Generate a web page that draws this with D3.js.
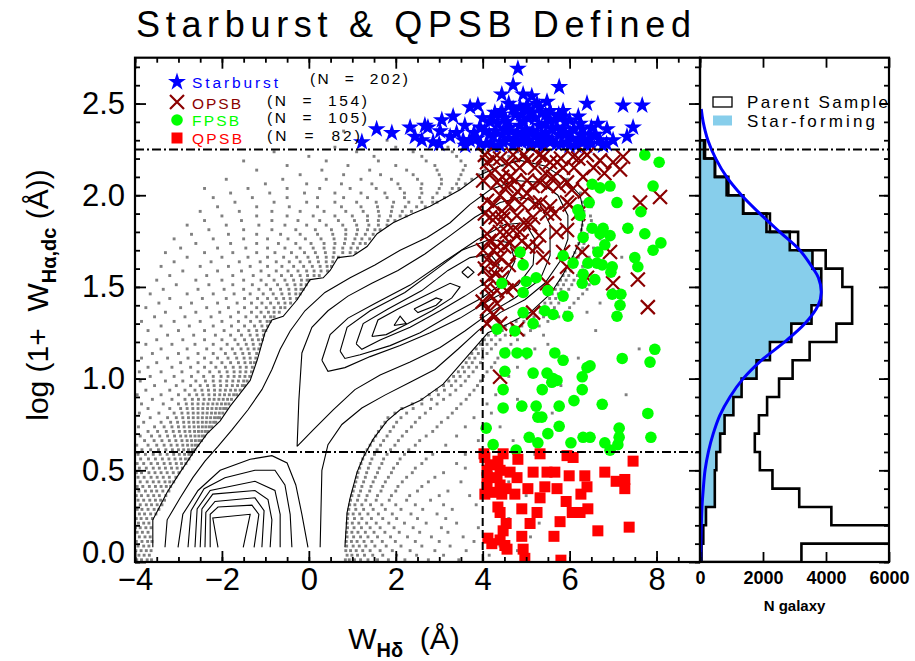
<!DOCTYPE html>
<html><head><meta charset="utf-8">
<script src="https://cdn.jsdelivr.net/npm/d3@7"></script>
<style>body{margin:0;background:#fff}svg{display:block}text{white-space:pre}</style>
</head><body><svg width="915" height="661"></svg>
<script>
// ---------------- DATA ----------------
const titleText = "Starburst & QPSB Defined";
const xTicks = [-4,-2,0,2,4,6,8];
const yTicks = [0,0.5,1,1.5,2,2.5];
const histTicks = [0,2000,4000,6000];
const cutLines = {hiY:2.25, loY:0.6, x:4};
const legendRows = [
  {name:"Starburst", n:"(N  =  202)", color:"#0000ff", sym:"star"},
  {name:"OPSB", n:"(N  =  154)", color:"#8b0000", sym:"cross"},
  {name:"FPSB", n:"(N  =  105)", color:"#00ff00", sym:"circle"},
  {name:"QPSB", n:"(N  =  82)", color:"#ff0000", sym:"square"}
];
const starburst = [[4.81,2.69],[4.70,2.60],[5.76,2.59],[4.44,2.55],[4.93,2.55],[5.13,2.54],[5.48,2.51],[6.40,2.50],[7.23,2.49],[7.67,2.49],[3.71,2.48],[3.89,2.49],[4.28,2.45],[4.44,2.46],[4.86,2.48],[5.02,2.49],[5.85,2.46],[3.32,2.43],[3.06,2.41],[2.74,2.37],[2.44,2.32],[1.56,2.36],[1.91,2.34],[1.22,2.29],[3.02,2.35],[3.25,2.32],[3.59,2.38],[3.94,2.37],[4.17,2.40],[4.51,2.42],[4.63,2.37],[4.93,2.40],[5.20,2.42],[5.55,2.41],[5.83,2.43],[6.24,2.39],[6.65,2.39],[6.86,2.36],[7.46,2.37],[7.32,2.32],[7.00,2.30],[6.47,2.33],[6.01,2.34],[5.25,2.33],[4.24,2.32],[3.87,2.31],[3.55,2.30],[2.86,2.29],[4.47,2.29],[4.79,2.30],[5.55,2.29],[6.31,2.29],[6.77,2.27],[2.33,2.37],[2.67,2.38],
[4.10,2.28],[4.30,2.35],[4.40,2.27],[4.60,2.31],[4.70,2.27],[4.80,2.34],[4.90,2.29],[5.00,2.36],[5.10,2.27],[5.20,2.32],[5.30,2.38],[5.40,2.27],[5.45,2.34],[5.60,2.30],[5.70,2.37],[5.80,2.28],[5.90,2.33],[6.00,2.27],[6.10,2.36],[6.20,2.30],[4.55,2.40],[4.75,2.44],[5.05,2.42],[5.35,2.45],[5.65,2.41],[4.35,2.39],[5.90,2.40],[6.40,2.27],[6.60,2.33],[3.70,2.30],[3.95,2.28],[4.00,2.42],[5.00,2.47],[5.25,2.50],[4.60,2.50],[6.30,2.36],[5.55,2.46],[3.40,2.34],[3.00,2.28],[2.60,2.30],
[4.15,2.33],[4.25,2.27],[4.45,2.33],[4.50,2.36],[4.65,2.35],[4.75,2.29],[4.85,2.38],[4.95,2.33],[5.05,2.30],[5.15,2.35],[5.25,2.28],[5.35,2.31],[5.45,2.39],[5.50,2.31],[5.60,2.36],[5.70,2.28],[5.75,2.33],[5.85,2.36],[5.95,2.29],[6.05,2.31],[6.15,2.27],[6.25,2.33],[6.35,2.30],[6.50,2.28],[6.70,2.30],[6.85,2.28],[4.05,2.35],[3.80,2.34],[3.60,2.27],[4.20,2.42],[4.90,2.44],[5.15,2.45],[5.45,2.44],[5.75,2.44],[6.00,2.41],[6.20,2.43],[4.40,2.44],[5.30,2.48],[4.70,2.47],[6.50,2.37]];
const opsb = [[4.10,2.18],[4.40,2.20],[4.70,2.22],[5.02,2.19],[5.39,2.21],[5.71,2.18],[6.08,2.21],[6.40,2.22],[6.70,2.19],[7.23,2.21],[7.16,2.14],[4.01,2.08],[4.33,2.07],[4.63,2.10],[5.02,2.08],[5.32,2.07],[5.62,2.10],[5.94,2.07],[6.31,2.10],[4.10,1.97],[4.40,2.00],[4.70,1.99],[5.02,2.01],[5.32,1.96],[5.55,1.94],[5.94,1.96],[4.17,1.88],[4.47,1.87],[4.79,1.89],[5.16,1.88],[5.48,1.90],[4.10,1.79],[4.40,1.80],[4.70,1.81],[5.09,1.84],[4.01,1.70],[4.33,1.72],[4.63,1.74],[4.10,1.65],[4.40,1.66],[4.17,1.55],[4.33,1.48],[4.10,1.50],[5.25,1.72],[5.39,1.66],[5.94,1.81],[5.85,1.69],[6.29,1.69],[6.93,1.69],[6.40,1.55],[7.00,1.52],[7.62,1.96],[8.08,1.99],[7.57,1.54],[7.80,1.39],[5.48,1.52],[5.16,1.36],[4.33,1.41],[4.79,1.27],[5.94,1.61],[4.40,1.01],
[4.05,2.22],[4.20,2.12],[4.25,1.95],[4.05,1.90],[4.15,1.75],[4.30,1.62],[4.05,1.60],[4.20,1.45],[4.45,1.55],[4.50,1.90],[4.55,2.05],[4.80,2.02],[4.90,1.95],[4.85,2.15],[5.20,2.15],[5.50,2.05],[5.80,2.20],[6.10,2.15],[6.00,1.95],[5.30,1.78],[4.60,1.62],[4.00,1.42],[4.25,1.35],[4.10,1.30],[4.90,1.75],[5.70,1.80],[6.20,1.90],[6.35,2.02],[6.80,2.12],[7.00,2.18],
[4.25,2.20],[4.60,2.17],[4.95,2.22],[5.30,2.22],[5.55,2.18],[5.85,2.15],[6.20,2.20],[6.55,2.15],[4.45,2.10],[4.75,2.08],[5.15,2.05],[5.45,2.12],[5.75,2.05],[6.05,2.03],[4.30,1.88],[4.60,1.95],[4.95,1.85],[5.20,1.95],[5.65,1.90],[4.25,1.70],[4.50,1.72],[4.80,1.68],[5.05,1.72],[4.55,1.80],[4.85,1.80],[4.30,1.57],[4.55,1.48],[4.10,1.38],[4.40,1.30],[4.70,1.50]];
const fpsb = [[7.73,2.22],[8.06,2.18],[6.52,2.06],[6.70,2.04],[6.93,2.05],[7.92,2.05],[6.45,1.96],[7.09,1.96],[7.64,1.91],[6.19,1.92],[6.24,1.89],[6.52,1.82],[6.70,1.79],[6.77,1.82],[6.93,1.78],[7.34,1.82],[7.73,1.79],[6.31,1.77],[6.81,1.73],[6.65,1.69],[8.10,1.74],[7.92,1.70],[5.85,1.67],[6.08,1.63],[6.42,1.63],[6.63,1.63],[6.75,1.62],[6.98,1.61],[7.50,1.66],[7.57,1.61],[6.95,1.58],[6.31,1.57],[6.29,1.52],[6.58,1.54],[4.86,1.69],[4.93,1.62],[4.44,1.52],[5.00,1.53],[5.23,1.55],[4.93,1.47],[5.50,1.48],[5.85,1.45],[6.98,1.46],[7.18,1.46],[7.16,1.40],[7.09,1.34],[4.93,1.36],[5.16,1.30],[5.43,1.37],[5.62,1.35],[5.96,1.34],[4.33,1.27],[4.74,1.26],[4.51,1.14],[4.79,1.14],[5.02,1.14],[5.66,1.14],[5.85,1.10],[7.96,1.16],[7.21,1.11],[7.85,1.09],[6.47,1.07],[6.40,1.06],[4.51,1.04],[5.16,1.03],[5.48,1.03],[5.62,1.00],[5.71,0.99],[5.59,0.98],[6.29,1.01],[4.47,0.94],[5.37,0.94],[6.29,0.94],[6.10,0.88],[6.75,0.86],[4.47,0.84],[4.90,0.85],[5.23,0.85],[5.76,0.85],[7.80,0.81],[5.27,0.79],[5.36,0.79],[5.76,0.74],[4.08,0.73],[5.50,0.70],[5.07,0.68],[5.27,0.65],[6.03,0.65],[6.31,0.68],[6.47,0.68],[7.14,0.73],[7.14,0.68],[7.87,0.68],[6.81,0.65],[7.11,0.64],[4.24,0.64],[4.77,0.61],[6.93,0.61]];
const qpsb = [[4.03,0.59],[4.47,0.59],[4.81,0.56],[5.32,0.59],[5.94,0.58],[6.08,0.57],[7.46,0.55],[4.17,0.53],[4.35,0.55],[4.40,0.50],[4.10,0.46],[4.33,0.46],[4.63,0.49],[4.79,0.46],[5.16,0.49],[5.48,0.49],[5.66,0.49],[5.99,0.47],[6.35,0.47],[6.81,0.49],[7.07,0.44],[7.27,0.45],[7.27,0.40],[4.10,0.41],[4.40,0.42],[4.54,0.40],[5.04,0.40],[5.43,0.41],[5.71,0.40],[6.40,0.41],[4.05,0.37],[4.21,0.38],[4.44,0.37],[4.74,0.37],[5.32,0.35],[6.26,0.37],[5.92,0.33],[4.35,0.30],[4.90,0.29],[5.25,0.27],[6.06,0.27],[6.24,0.27],[6.42,0.29],[4.40,0.27],[4.54,0.21],[5.09,0.21],[5.78,0.22],[6.65,0.17],[7.37,0.19],[4.12,0.13],[4.40,0.12],[4.47,0.17],[4.51,0.09],[4.90,0.14],[5.64,0.14],[4.21,0.10],[4.56,0.07],[4.93,0.07],[4.97,0.02],[5.80,0.01],[4.05,0.57],[4.10,0.50]];
// parent-sample galaxies outside the lowest contour: rows of [logW_Ha, [W_Hd ...]]
const grayRows = [
[0.012,[-3.96,-3.85,-3.72,-3.62,0.84,0.93,1.05,1.19,1.36,1.58,1.83,2.21,2.75,3.45]],
[0.037,[-3.91,-3.79,-3.67,0.88,0.99,1.12,1.28,1.47,1.70,2.02,2.48,3.10,4.15]],
[0.062,[-3.98,-3.86,-3.74,-3.63,0.85,0.96,1.09,1.24,1.41,1.64,1.92,2.33,2.90,3.62,4.80]],
[0.087,[-3.93,-3.80,-3.68,0.87,1.02,1.16,1.31,1.52,1.78,2.12,2.60,3.25,4.40]],
[0.112,[-3.97,-3.84,-3.71,-3.61,0.86,0.98,1.11,1.27,1.45,1.69,1.99,2.45,3.00,3.80]],
[0.137,[-3.90,-3.77,-3.65,0.88,1.03,1.19,1.36,1.58,1.88,2.27,2.82,3.55,5.10]],
[0.162,[-3.95,-3.83,-3.70,0.87,0.99,1.13,1.30,1.50,1.75,2.08,2.55,3.20]],
[0.187,[-3.99,-3.88,-3.75,-3.63,0.89,1.04,1.21,1.41,1.64,1.96,2.40,3.05,3.90]],
[0.212,[-3.92,-3.80,-3.68,0.88,1.00,1.15,1.33,1.55,1.84,2.20,2.70,3.40,5.30]],
[0.237,[-3.97,-3.86,-3.73,-3.60,0.89,1.05,1.22,1.44,1.70,2.02,2.50,3.15,4.60]],
[0.262,[-3.90,-3.78,-3.64,-3.52,0.90,1.02,1.17,1.36,1.60,1.92,2.35,2.95]],
[0.287,[-3.95,-3.84,-3.70,-3.56,-3.45,0.92,1.08,1.26,1.48,1.76,2.12,2.62,3.30,4.30]],
[0.312,[-3.88,-3.74,-3.62,-3.49,-3.38,0.94,1.06,1.22,1.42,1.68,2.00,2.45,3.10,3.85]],
[0.337,[-3.93,-3.80,-3.66,-3.53,-3.41,-3.32,0.96,1.12,1.31,1.55,1.85,2.25,2.80]],
[0.362,[-3.97,-3.85,-3.70,-3.57,-3.44,-3.29,0.99,1.15,1.34,1.58,1.90,2.32,3.00,3.70,5.00]],
[0.387,[-3.91,-3.76,-3.62,-3.50,-3.36,-3.22,1.02,1.19,1.40,1.66,2.00,2.50,3.20]],
[0.412,[-3.95,-3.82,-3.67,-3.53,-3.40,-3.28,-3.18,1.05,1.22,1.43,1.70,2.05,2.60]],
[0.437,[-3.88,-3.72,-3.58,-3.45,-3.31,-3.20,-3.11,1.08,1.26,1.48,1.76,2.15,2.75,3.50,4.60]],
[0.462,[-3.93,-3.79,-3.63,-3.49,-3.35,-3.21,-3.06,1.11,1.30,1.53,1.83,2.25,2.90]],
[0.487,[-3.97,-3.85,-3.68,-3.54,-3.40,-3.26,-3.12,-2.99,1.13,1.33,1.58,1.90,2.38,3.10,4.20]],
[0.512,[-3.90,-3.74,-3.58,-3.44,-3.30,-3.16,-3.03,-2.91,1.17,1.37,1.62,1.95,2.45,3.60]],
[0.537,[-3.95,-3.80,-3.63,-3.48,-3.33,-3.19,-3.05,-2.93,-2.83,1.20,1.41,1.68,2.04,2.60,3.40]],
[0.562,[-3.87,-3.69,-3.53,-3.37,-3.22,-3.08,-2.95,-2.84,-2.76,1.24,1.45,1.72,2.10,2.70]],
[0.587,[-3.93,-3.76,-3.58,-3.42,-3.26,-3.11,-2.98,-2.86,-2.76,-2.70,1.29,1.51,1.80,2.20,2.85,3.60,5.20]],
[0.612,[-3.84,-3.64,-3.46,-3.29,-3.14,-3.00,-2.88,-2.77,-2.68,-2.62,1.34,1.57,1.88,2.30]],
[0.637,[-3.96,-3.70,-3.50,-3.33,-3.17,-3.03,-2.90,-2.79,-2.69,-2.61,-2.55,1.41,1.65,1.98,2.45,3.15]],
[0.662,[-3.78,-3.56,-3.38,-3.21,-3.06,-2.92,-2.80,-2.70,-2.61,-2.53,-2.47,1.48,1.72,2.06,2.55,3.90,4.70]],
[0.687,[-3.88,-3.62,-3.43,-3.25,-3.09,-2.95,-2.83,-2.72,-2.62,-2.53,-2.45,-2.40,1.54,1.80,2.15,2.70,3.40]],
[0.712,[-3.70,-3.48,-3.28,-3.12,-2.98,-2.85,-2.74,-2.63,-2.54,-2.46,-2.38,-2.32,1.60,1.87,2.25,2.85]],
[0.737,[-3.92,-3.55,-3.33,-3.15,-3.00,-2.87,-2.75,-2.64,-2.54,-2.45,-2.37,-2.29,-2.23,1.67,1.95,2.36,2.95,3.60,4.40]],
[0.762,[-3.80,-3.40,-3.18,-3.02,-2.88,-2.76,-2.65,-2.55,-2.45,-2.36,-2.27,-2.19,-2.14,1.75,2.02,2.45,3.05]],
[0.787,[-3.65,-3.25,-3.05,-2.90,-2.77,-2.66,-2.55,-2.45,-2.35,-2.26,-2.17,-2.10,-2.05,1.82,2.12,2.55,3.20,3.80]],
[0.812,[-3.90,-3.45,-3.10,-2.92,-2.78,-2.66,-2.55,-2.44,-2.34,-2.24,-2.15,-2.06,-1.98,1.98,2.25,2.68,3.30,4.20,5.60]],
[0.837,[-3.70,-3.20,-2.95,-2.80,-2.67,-2.55,-2.44,-2.33,-2.23,-2.13,-2.04,-1.96,-1.90,2.14,2.40,2.80,3.40]],
[0.862,[-3.85,-3.35,-3.00,-2.82,-2.68,-2.55,-2.43,-2.32,-2.21,-2.11,-2.01,-1.92,-1.84,2.38,2.60,2.95,3.50,4.10]],
[0.887,[-3.60,-3.15,-2.85,-2.68,-2.54,-2.41,-2.29,-2.18,-2.07,-1.97,-1.87,-1.78,2.60,2.82,3.10,3.62,4.80]],
[0.912,[-3.95,-3.40,-3.00,-2.75,-2.58,-2.44,-2.30,-2.17,-2.05,-1.94,-1.83,-1.73,-1.66,2.77,2.98,3.25,3.70,4.30,7.30]],
[0.937,[-3.75,-3.20,-2.85,-2.62,-2.46,-2.31,-2.17,-2.04,-1.92,-1.80,-1.69,-1.58,2.94,3.12,3.38,3.80]],
[0.962,[-3.55,-3.05,-2.72,-2.50,-2.33,-2.18,-2.03,-1.89,-1.76,-1.64,-1.53,-1.48,3.10,3.28,3.50,3.88,4.50,5.80]],
[0.987,[-3.88,-3.30,-2.90,-2.60,-2.38,-2.20,-2.04,-1.89,-1.75,-1.62,-1.50,-1.42,3.22,3.38,3.60,3.95]],
[1.012,[-3.65,-3.10,-2.70,-2.42,-2.20,-2.02,-1.86,-1.72,-1.59,-1.47,-1.36,3.33,3.48,3.68,4.02,4.60]],
[1.037,[-3.90,-3.40,-2.92,-2.55,-2.28,-2.06,-1.88,-1.72,-1.58,-1.45,-1.32,3.44,3.58,3.78,4.10,5.20]],
[1.062,[-3.70,-3.15,-2.72,-2.40,-2.14,-1.92,-1.74,-1.58,-1.44,-1.30,3.54,3.68,3.86,4.20,4.80]],
[1.087,[-3.50,-2.95,-2.55,-2.25,-2.00,-1.80,-1.62,-1.47,-1.34,-1.25,3.62,3.76,3.95,4.28]],
[1.112,[-3.85,-3.25,-2.78,-2.40,-2.10,-1.86,-1.66,-1.49,-1.35,-1.22,3.69,3.82,4.00,4.35,5.00,6.20]],
[1.137,[-3.60,-3.00,-2.55,-2.20,-1.92,-1.70,-1.52,-1.37,-1.20,3.75,3.90,4.10,4.45]],
[1.162,[-3.40,-2.80,-2.35,-2.02,-1.76,-1.56,-1.40,-1.26,-1.15,3.85,4.00,4.20,4.55,5.20,7.60]],
[1.187,[-3.75,-3.15,-2.62,-2.20,-1.88,-1.63,-1.44,-1.28,-1.12,3.95,4.10,4.30,4.65,5.50]],
[1.212,[-3.50,-2.90,-2.40,-2.00,-1.70,-1.48,-1.30,-1.16,-1.07,4.04,4.20,4.40,4.80]],
[1.237,[-3.25,-2.65,-2.15,-1.80,-1.55,-1.35,-1.19,-1.04,4.13,4.30,4.52,4.95,5.40]],
[1.262,[-3.70,-3.00,-2.40,-1.95,-1.62,-1.38,-1.20,-1.05,-0.99,4.28,4.45,4.68,5.10,6.60]],
[1.287,[-3.40,-2.75,-2.20,-1.78,-1.48,-1.25,-1.08,-0.95,4.52,4.68,4.90,5.30]],
[1.312,[-3.85,-3.10,-2.50,-2.00,-1.62,-1.34,-1.12,-0.96,-0.89,4.77,4.95,5.15,5.50]],
[1.337,[-3.55,-2.85,-2.25,-1.80,-1.45,-1.20,-1.02,-0.88,-0.80,5.02,5.18,5.40,5.75]],
[1.362,[-3.30,-2.60,-2.05,-1.62,-1.32,-1.10,-0.93,-0.80,-0.68,5.17,5.32,5.55,5.90,6.40]],
[1.387,[-3.75,-2.95,-2.35,-1.85,-1.48,-1.20,-0.98,-0.80,-0.65,-0.55,5.32,5.46,5.65,6.00]],
[1.412,[-3.45,-2.70,-2.10,-1.65,-1.32,-1.08,-0.88,-0.70,-0.55,-0.42,5.43,5.57,5.75,6.10,6.70]],
[1.437,[-3.20,-2.45,-1.90,-1.48,-1.18,-0.95,-0.75,-0.58,-0.43,-0.28,5.54,5.68,5.85,6.20]],
[1.462,[-3.65,-2.80,-2.20,-1.72,-1.35,-1.05,-0.82,-0.62,-0.45,-0.30,-0.20,5.60,5.74,5.92,6.30]],
[1.487,[-3.35,-2.55,-1.95,-1.50,-1.15,-0.88,-0.65,-0.46,-0.30,-0.18,-0.13,5.67,5.80,5.98,6.40,7.00]],
[1.512,[-3.05,-2.30,-1.75,-1.30,-0.98,-0.72,-0.50,-0.32,-0.18,-0.06,5.73,5.86,6.05,6.45]],
[1.537,[-3.50,-2.60,-2.00,-1.50,-1.10,-0.80,-0.55,-0.35,-0.17,-0.04,0.00,5.79,5.92,6.10]],
[1.562,[-3.20,-2.35,-1.75,-1.28,-0.92,-0.63,-0.40,-0.20,-0.03,0.12,0.24,5.85,5.98,6.18,6.60]],
[1.587,[-2.90,-2.10,-1.55,-1.10,-0.75,-0.48,-0.25,-0.05,0.12,0.28,0.43,5.90,6.03,6.25]],
[1.612,[-3.40,-2.50,-1.85,-1.35,-0.95,-0.62,-0.35,-0.12,0.08,0.26,0.42,0.52,5.96,6.08,6.30,6.80]],
[1.637,[-3.10,-2.25,-1.60,-1.12,-0.75,-0.45,-0.20,0.02,0.22,0.40,0.55,6.02,6.14,6.35]],
[1.662,[-2.80,-2.00,-1.40,-0.95,-0.58,-0.28,-0.02,0.20,0.40,0.56,0.68,6.08,6.20,6.45,7.20]],
[1.687,[-3.30,-2.40,-1.75,-1.20,-0.78,-0.40,-0.10,0.15,0.38,0.58,0.78,0.95,1.08,6.12,6.25]],
[1.712,[-2.95,-2.10,-1.45,-0.95,-0.55,-0.20,0.10,0.35,0.58,0.78,0.97,1.12,6.17,6.30,6.55]],
[1.737,[-2.60,-1.80,-1.20,-0.70,-0.30,0.05,0.35,0.60,0.82,1.02,1.18,1.30,6.21,6.33]],
[1.762,[-3.10,-2.20,-1.50,-0.95,-0.48,-0.08,0.28,0.58,0.84,1.06,1.22,1.40,6.23,6.38,6.70]],
[1.787,[-2.70,-1.85,-1.20,-0.65,-0.20,0.20,0.55,0.85,1.10,1.30,1.48,6.25,6.40]],
[1.812,[-2.30,-1.50,-0.85,-0.30,0.15,0.52,0.85,1.12,1.35,1.52,1.64,6.27,6.42,6.80]],
[1.837,[-2.80,-1.90,-1.15,-0.55,-0.05,0.40,0.78,1.10,1.38,1.60,1.80,6.29,6.45]],
[1.862,[-2.40,-1.55,-0.85,-0.25,0.25,0.68,1.05,1.35,1.60,1.82,1.98,6.31,6.50]],
[1.887,[-2.00,-1.20,-0.50,0.10,0.60,1.00,1.35,1.62,1.88,2.10,2.24,6.32,6.48]],
[1.912,[-2.50,-1.60,-0.85,-0.20,0.35,0.85,1.25,1.60,1.90,2.15,2.36,6.33]],
[1.937,[-2.10,-1.20,-0.45,0.20,0.75,1.20,1.58,1.92,2.22,2.48,2.68,6.32,6.50]],
[1.962,[-1.70,-0.80,-0.05,0.60,1.10,1.55,1.95,2.30,2.60,2.85,2.95,6.31]],
[1.987,[-2.20,-1.30,-0.50,0.20,0.80,1.35,1.80,2.20,2.55,2.85,3.12]],
[2.012,[-1.80,-0.90,-0.10,0.60,1.20,1.75,2.20,2.60,2.95,3.25,6.25]],
[2.037,[-2.40,-1.40,-0.50,0.25,0.95,1.55,2.10,2.58,3.00,3.30,3.45]],
[2.062,[-1.00,-0.05,0.75,1.45,2.05,2.60,3.05,3.40,3.60]],
[2.087,[-1.90,-0.60,0.40,1.20,1.90,2.50,3.05,3.45,3.75,5.95]],
[2.112,[-0.20,0.80,1.65,2.40,3.00,3.50,3.90]],
[2.137,[-1.20,0.30,1.40,2.25,2.95,3.55,4.05]],
[2.162,[-0.50,0.90,2.00,2.90,3.60,4.20,4.45]],
[2.187,[-1.50,0.40,1.60,2.70,3.50,4.10,4.75]],
[2.212,[0.00,1.50,2.60,3.40,4.00,4.60,5.00]],
[2.237,[-0.80,1.10,2.40,3.30,4.10,4.80]],
[2.262,[0.60,2.00,3.20,4.20,5.30]],
[2.300,[1.80,3.60,4.70]],
[2.350,[0.80,3.00]]];
// density contours of the parent sample (traced)
const contourL1 = [[-3.59,0.08],[-3.59,0.23],[-3.26,0.38],[-2.96,0.49],[-2.62,0.61],[-2.34,0.70],[-2.04,0.77],[-1.81,0.85],[-1.58,0.92],[-1.35,0.99],[-1.19,1.10],[-1.01,1.25],[-0.85,1.32],[-0.59,1.34],[-0.27,1.43],[0.03,1.54],[0.33,1.55],[0.49,1.59],[0.67,1.66],[1.02,1.67],[1.34,1.72],[1.57,1.79],[1.94,1.85],[2.40,1.90],[2.79,1.94],[3.02,1.97],[3.48,2.03],[3.94,2.11],[4.40,2.16],[4.86,2.19],[5.43,2.16],[5.89,2.09],[6.24,2.00],[6.31,1.92],[6.29,1.84],[6.22,1.74],[6.06,1.66],[5.83,1.56],[5.55,1.46],[5.09,1.36],[4.51,1.29],[4.12,1.25],[3.64,1.12],[3.09,0.97],[2.56,0.88],[2.10,0.83],[1.80,0.77],[1.48,0.67],[1.25,0.57],[1.11,0.49],[0.95,0.35],[0.88,0.27],[0.83,0.08]];
const contourL2 = [[-3.31,0.08],[-3.26,0.23],[-2.96,0.35],[-2.67,0.46],[-2.39,0.55],[-2.09,0.63],[-1.77,0.72],[-1.40,0.83],[-1.08,0.94],[-0.85,1.05],[-0.66,1.16],[-0.43,1.26],[-0.09,1.37],[0.37,1.47],[0.95,1.55],[1.52,1.62],[2.10,1.70],[2.72,1.77],[3.25,1.85],[3.71,1.95],[4.17,2.03],[4.74,2.08],[5.32,2.07],[5.73,2.00],[5.96,1.89],[5.96,1.76],[5.78,1.64],[5.43,1.52],[4.97,1.43],[4.40,1.36],[3.89,1.26],[3.43,1.16],[2.90,1.05],[2.33,0.98],[1.75,0.91],[1.22,0.84],[0.76,0.75],[0.44,0.64],[0.30,0.50],[0.26,0.08]];
const contourL3a = [[-3.01,0.08],[-2.90,0.26],[-2.55,0.39],[-2.04,0.50],[-1.35,0.56],[-0.85,0.58],[-0.50,0.54],[-0.30,0.42],[-0.16,0.26],[-0.02,0.08]];
const contourL3b = [[-0.27,0.63],[-0.23,0.88],[-0.16,1.14],[0.07,1.28],[0.44,1.37],[0.90,1.45],[1.45,1.52],[2.05,1.59],[2.67,1.68],[3.25,1.78],[3.82,1.88],[4.40,1.96],[4.90,1.99],[5.32,1.95],[5.55,1.84],[5.55,1.67],[5.32,1.54],[4.74,1.44],[4.17,1.36],[3.59,1.26],[3.02,1.17],[2.33,1.09],[1.64,1.02],[1.06,0.94],[0.56,0.83],[0.10,0.72],[-0.27,0.63]];
const contourLow = [
 [[-2.78,0.08],[-2.71,0.28],[-2.41,0.40],[-1.93,0.46],[-1.24,0.50],[-0.78,0.50],[-0.55,0.42],[-0.43,0.26],[-0.39,0.08]],
 [[-2.62,0.08],[-2.57,0.29],[-2.27,0.39],[-1.24,0.44],[-0.78,0.39],[-0.66,0.26],[-0.66,0.08]],
 [[-2.50,0.08],[-2.46,0.29],[-2.21,0.37],[-1.24,0.39],[-0.94,0.34],[-0.85,0.23],[-0.89,0.08]],
 [[-2.39,0.08],[-2.37,0.27],[-2.16,0.33],[-1.24,0.35],[-1.03,0.28],[-1.08,0.08]],
 [[-2.27,0.08],[-2.27,0.26],[-2.09,0.30],[-1.31,0.31],[-1.15,0.26],[-1.26,0.08]],
 [[-2.09,0.08],[-2.21,0.24],[-1.35,0.26],[-1.51,0.08]]];
const contourHigh = [
 [[0.30,1.10],[0.49,1.24],[0.90,1.33],[1.52,1.41],[2.33,1.51],[3.13,1.64],[3.89,1.76],[4.51,1.84],[4.97,1.85],[5.20,1.76],[5.16,1.62],[4.81,1.51],[4.17,1.43],[3.48,1.33],[2.79,1.25],[2.10,1.18],[1.41,1.12],[0.83,1.06],[0.44,1.04],[0.30,1.10]],
 [[0.72,1.15],[0.88,1.28],[1.41,1.37],[2.21,1.47],[2.90,1.59],[3.52,1.70],[4.17,1.76],[4.63,1.74],[4.74,1.64],[4.51,1.53],[3.98,1.44],[3.36,1.36],[2.56,1.25],[1.87,1.18],[1.18,1.13],[0.83,1.11],[0.72,1.15]],
 [[1.09,1.19],[1.25,1.30],[1.82,1.38],[2.60,1.48],[3.20,1.59],[3.71,1.66],[4.17,1.68],[4.38,1.62],[4.17,1.54],[3.59,1.45],[3.02,1.37],[2.33,1.28],[1.64,1.21],[1.22,1.16],[1.09,1.19]],
 [[1.45,1.23],[1.59,1.32],[2.05,1.38],[2.74,1.46],[3.25,1.52],[3.48,1.50],[3.29,1.44],[2.83,1.37],[2.28,1.30],[1.78,1.24],[1.45,1.23]],
 [[1.96,1.29],[2.10,1.34],[2.24,1.30],[1.96,1.29]],
 [[2.42,1.38],[2.93,1.44],[3.06,1.43],[2.93,1.40],[2.51,1.36],[2.42,1.38]],
 [[3.52,1.58],[3.66,1.61],[3.80,1.58],[3.66,1.55],[3.52,1.58]]];
// histogram of log(1+W_Ha), bins of 0.1 starting at 0
const histBinWidth = 0.1;
const parentCounts = [3220,6400,4170,3150,2300,1900,1740,1870,2130,2510,2940,3480,4330,4830,4830,4520,3990,3115,2220,1370,900,475,160];
const sfCounts = [50,105,190,470,470,520,640,780,1060,1320,1795,2220,2900,3540,3850,3850,3570,2850,2110,1370,845,475,127];
const gaussFit = [[0,20],[0.2,42],[0.3,63],[0.4,105],[0.5,160],[0.6,265],[0.7,420],[0.8,630],[0.9,950],[1.0,1370],[1.1,1950],[1.2,2690],[1.3,3330],[1.4,3750],[1.47,3850],[1.55,3760],[1.6,3590],[1.7,3170],[1.8,2530],[1.9,1900],[2.0,1320],[2.1,845],[2.2,500],[2.3,250],[2.4,100],[2.47,40]];
const histLegend = [{name:"Parent Sample", fill:"#ffffff"},{name:"Star-forming", fill:"rgb(135,206,235)"}];

// ---------------- DRAW ----------------
const FONT = '"Liberation Sans", Arial, Helvetica, sans-serif';
const svg = d3.select("svg");
const x = d3.scaleLinear().domain([-4,9]).range([135,700]);
const y = d3.scaleLinear().domain([0,2.75]).range([562,57.7]);
const hx = d3.scaleLinear().domain([0,6000]).range([700,889]);

const defs = svg.append("defs");
defs.append("clipPath").attr("id","cm").append("rect")
  .attr("x",x(-4)).attr("y",y(2.75)).attr("width",x(9)-x(-4)).attr("height",y(0)-y(2.75));
defs.append("clipPath").attr("id","ch").append("rect")
  .attr("x",hx(0)).attr("y",y(2.75)).attr("width",hx(6000)-hx(0)).attr("height",y(0)-y(2.75));

const gm = svg.append("g").attr("clip-path","url(#cm)");
const grayPts = grayRows.flatMap(([yy,xs]) => xs.map(xx => [xx,yy]));
gm.append("g").selectAll("rect").data(grayPts).join("rect")
  .attr("x",d=>x(d[0])-1.45).attr("y",d=>y(d[1])-1.45).attr("width",2.9).attr("height",2.9)
  .attr("fill","#808080");

const line = d3.line().x(d=>x(d[0])).y(d=>y(d[1]));
const allContours = [contourL1, contourL2, contourL3a, contourL3b, ...contourLow, ...contourHigh];
gm.append("g").selectAll("path").data(allContours).join("path")
  .attr("d",line).attr("fill","none").attr("stroke","#000").attr("stroke-width",1.1);

const starPath = d3.symbol(d3.symbolStar, 100)();
const crossPath = "M-7,-7L7,7M-7,7L7,-7";
gm.append("g").selectAll("path").data(starburst).join("path")
  .attr("d",starPath).attr("transform",d=>`translate(${x(d[0])},${y(d[1])})`).attr("fill","#0000ff");
gm.append("g").selectAll("path").data(opsb).join("path")
  .attr("d",crossPath).attr("transform",d=>`translate(${x(d[0])},${y(d[1])})`)
  .attr("stroke","#8b0000").attr("stroke-width",2.2).attr("fill","none");
gm.append("g").selectAll("circle").data(fpsb).join("circle")
  .attr("cx",d=>x(d[0])).attr("cy",d=>y(d[1])).attr("r",5.8).attr("fill","#00ff00");
gm.append("g").selectAll("rect").data(qpsb).join("rect")
  .attr("x",d=>x(d[0])-5.5).attr("y",d=>y(d[1])-5.5).attr("width",11).attr("height",11).attr("fill","#ff0000");

// selection lines
const dashDot = "9,3,2,3";
gm.append("line").attr("x1",x(-4)).attr("x2",x(9)).attr("y1",y(cutLines.hiY)).attr("y2",y(cutLines.hiY))
  .attr("stroke","#000").attr("stroke-width",2).attr("stroke-dasharray",dashDot);
gm.append("line").attr("x1",x(-4)).attr("x2",x(9)).attr("y1",y(cutLines.loY)).attr("y2",y(cutLines.loY))
  .attr("stroke","#000").attr("stroke-width",2).attr("stroke-dasharray",dashDot);
gm.append("line").attr("x1",x(cutLines.x)).attr("x2",x(cutLines.x)).attr("y1",y(0)).attr("y2",y(cutLines.hiY))
  .attr("stroke","#000").attr("stroke-width",2).attr("stroke-dasharray","8,4");

// histogram panel
const gh = svg.append("g").attr("clip-path","url(#ch)");
function stepPts(counts){
  const pts=[[0,0]];
  counts.forEach((c,i)=>{ pts.push([c,i*histBinWidth],[c,(i+1)*histBinWidth]); });
  pts.push([0,counts.length*histBinWidth]);
  return pts;
}
const hline = d3.line().x(d=>hx(d[0])).y(d=>y(d[1]));
gh.append("path").attr("d",hline(stepPts(sfCounts))).attr("fill","rgb(135,206,235)").attr("stroke","#000").attr("stroke-width",2.6);
gh.append("path").attr("d",hline(stepPts(parentCounts))).attr("fill","none").attr("stroke","#000").attr("stroke-width",2.6);
gh.append("path").attr("d",d3.line().x(d=>hx(d[1])).y(d=>y(d[0])).curve(d3.curveCatmullRom)(gaussFit))
  .attr("fill","none").attr("stroke","#0000ff").attr("stroke-width",3);
gh.append("line").attr("x1",hx(0)).attr("x2",hx(6000)).attr("y1",y(cutLines.hiY)).attr("y2",y(cutLines.hiY))
  .attr("stroke","#000").attr("stroke-width",2).attr("stroke-dasharray",dashDot);

// axes
function styleAxis(g, fs, fw){
  g.attr("font-family",FONT).attr("font-size",fs);
  g.select(".domain").remove();
  g.selectAll(".tick line").attr("stroke","#000").attr("stroke-width",1.8);
  g.selectAll("text").attr("fill","#000").attr("font-weight",fw||"normal");
  return g;
}
const xMinor = d3.range(-4,9.001,0.5), yMinor = d3.range(0,2.7501,0.1);
styleAxis(svg.append("g").attr("transform",`translate(0,${y(0)})`)
  .call(d3.axisBottom(x).tickValues(xTicks).tickSize(-11).tickPadding(6).tickFormat(d3.format("d"))),31);
styleAxis(svg.append("g").attr("transform",`translate(0,${y(0)})`)
  .call(d3.axisBottom(x).tickValues(xMinor).tickSize(-5).tickFormat("")),10);
styleAxis(svg.append("g").attr("transform",`translate(0,${y(2.75)})`)
  .call(d3.axisTop(x).tickValues(xTicks).tickSize(-11).tickFormat("")),10);
styleAxis(svg.append("g").attr("transform",`translate(0,${y(2.75)})`)
  .call(d3.axisTop(x).tickValues(xMinor).tickSize(-5).tickFormat("")),10);
const yAx = styleAxis(svg.append("g").attr("transform",`translate(${x(-4)},0)`)
  .call(d3.axisLeft(y).tickValues(yTicks).tickSize(-11).tickPadding(10).tickFormat(d3.format(".1f"))),31);
yAx.selectAll(".tick").filter(d=>d===0).select("text").attr("transform","translate(0,-9)");
styleAxis(svg.append("g").attr("transform",`translate(${x(-4)},0)`)
  .call(d3.axisLeft(y).tickValues(yMinor).tickSize(-5).tickFormat("")),10);
styleAxis(svg.append("g").attr("transform",`translate(${x(9)},0)`)
  .call(d3.axisRight(y).tickValues(yTicks).tickSize(-11).tickFormat("")),10);
styleAxis(svg.append("g").attr("transform",`translate(${x(9)},0)`)
  .call(d3.axisRight(y).tickValues(yMinor).tickSize(-5).tickFormat("")),10);
// hist axes
styleAxis(svg.append("g").attr("transform",`translate(0,${y(0)})`)
  .call(d3.axisBottom(hx).tickValues(histTicks).tickSize(-10).tickPadding(9).tickFormat(d3.format("d"))),18,"bold");
styleAxis(svg.append("g").attr("transform",`translate(0,${y(2.75)})`)
  .call(d3.axisTop(hx).tickValues(histTicks).tickSize(-10).tickFormat("")),10);
styleAxis(svg.append("g").attr("transform",`translate(${hx(6000)},0)`)
  .call(d3.axisRight(y).tickValues(yTicks).tickSize(-10).tickFormat("")),10);
styleAxis(svg.append("g").attr("transform",`translate(${hx(6000)},0)`)
  .call(d3.axisRight(y).tickValues(yMinor).tickSize(-5).tickFormat("")),10);

// frames
svg.append("rect").attr("x",x(-4)).attr("y",y(2.75)).attr("width",x(9)-x(-4)).attr("height",y(0)-y(2.75))
  .attr("fill","none").attr("stroke","#000").attr("stroke-width",2.2);
svg.append("rect").attr("x",hx(0)).attr("y",y(2.75)).attr("width",hx(6000)-hx(0)).attr("height",y(0)-y(2.75))
  .attr("fill","none").attr("stroke","#000").attr("stroke-width",2.2);

// titles
svg.append("text").attr("x",136).attr("y",37).attr("font-family",FONT).attr("font-size",36)
  .attr("textLength",555).attr("lengthAdjust","spacing").text(titleText);
const xt = svg.append("text").attr("x",404).attr("y",649).attr("text-anchor","middle")
  .attr("font-family",FONT).attr("font-size",30);
xt.append("tspan").text("W");
xt.append("tspan").attr("font-size",20).attr("font-weight","bold").attr("dy",8).text("Hδ");
xt.append("tspan").attr("dy",-8).text("\u00a0\u00a0(Å)");
const yt = svg.append("text").attr("transform","translate(48,295) rotate(-90)").attr("text-anchor","middle")
  .attr("font-family",FONT).attr("font-size",30);
yt.append("tspan").text("log\u00a0(1+\u00a0\u00a0W");
yt.append("tspan").attr("font-size",20).attr("font-weight","bold").attr("dy",8).text("Hα,dc");
yt.append("tspan").attr("dy",-8).text("\u00a0(Å))");
svg.append("text").attr("x",hx(3000)).attr("y",611).attr("text-anchor","middle")
  .attr("font-family",FONT).attr("font-size",15).attr("font-weight","bold").text("N galaxy");

// main legend
const lg = svg.append("g").attr("font-family",FONT);
const rowY = [82,102,120,138], nameY = [88,108.5,126,143.5];
const nX = [310,267,267,267], nY = [84,105.5,123,140.5];
const nameW = [86,49,47,50], nW = [98,100,100,93];
legendRows.forEach((r,i)=>{
  const cy = rowY[i];
  if (r.sym==="star") lg.append("path").attr("d",starPath).attr("transform",`translate(177,${cy})`).attr("fill",r.color);
  if (r.sym==="cross") lg.append("path").attr("d",crossPath).attr("transform",`translate(177,${cy})`).attr("stroke",r.color).attr("stroke-width",2.2).attr("fill","none");
  if (r.sym==="circle") lg.append("circle").attr("cx",177).attr("cy",cy).attr("r",5.8).attr("fill",r.color);
  if (r.sym==="square") lg.append("rect").attr("x",171.5).attr("y",cy-5.5).attr("width",11).attr("height",11).attr("fill",r.color);
  lg.append("text").attr("x",192).attr("y",nameY[i]).attr("font-size",15.5).attr("fill",r.color)
    .attr("textLength",nameW[i]).attr("lengthAdjust","spacing").text(r.name);
  lg.append("text").attr("x",nX[i]).attr("y",nY[i]).attr("font-size",15.5).attr("fill","#000")
    .attr("textLength",nW[i]).attr("lengthAdjust","spacing").text(r.n);
});
// hist legend
const hl = svg.append("g").attr("font-family",FONT);
histLegend.forEach((r,i)=>{
  const cy = 102 + i*18.5;
  hl.append("rect").attr("x",713).attr("y",cy-5).attr("width",19).attr("height",10)
    .attr("fill",r.fill).attr("stroke",i===0?"#000":"none").attr("stroke-width",1.3);
  hl.append("text").attr("x",747).attr("y",cy+6).attr("font-size",17)
    .attr("textLength",i===0?141:128).attr("lengthAdjust","spacing").text(r.name);
});
</script>
</body></html>
